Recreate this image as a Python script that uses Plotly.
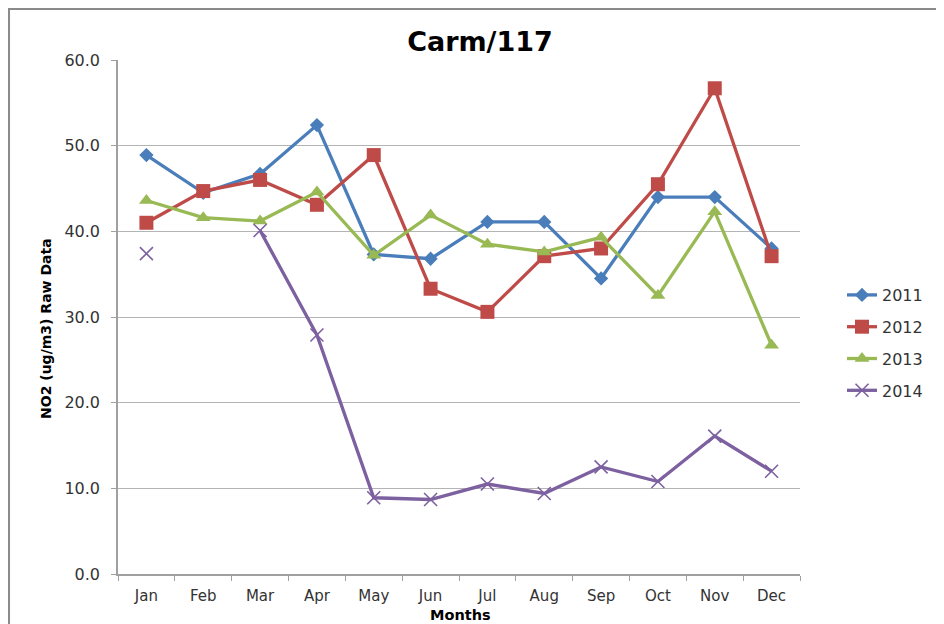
import plotly.graph_objects as go

months = ["Jan", "Feb", "Mar", "Apr", "May", "Jun", "Jul", "Aug", "Sep", "Oct", "Nov", "Dec"]
y2011 = [48.9, 44.5, 46.7, 52.4, 37.3, 36.8, 41.1, 41.1, 34.5, 44.0, 44.0, 38.0]
y2012 = [41.0, 44.7, 46.0, 43.1, 48.9, 33.3, 30.6, 37.1, 38.0, 45.5, 56.7, 37.1]
y2013 = [43.6, 41.6, 41.2, 44.6, 37.2, 41.9, 38.5, 37.6, 39.3, 32.5, 42.3, 26.7]
y2014 = [37.4, None, 40.1, 27.9, 8.9, 8.7, 10.5, 9.4, 12.5, 10.8, 16.1, 12.0]

series = [
    ("2011", y2011, "#4A7EBB", "diamond", 11),
    ("2012", y2012, "#BE4B48", "square", 14),
    ("2013", y2013, "#98B954", "triangle-up", 13),
    ("2014", y2014, "#7D60A0", "x-thin-open", 13),
]

FONT = "'DejaVu Sans', sans-serif"
TXT = "#333333"

fig = go.Figure()
for name, ys, color, sym, size in series:
    marker = dict(symbol=sym, size=size, color=color)
    if sym == "x-thin-open":
        marker["line"] = dict(color=color, width=1.6)
    fig.add_trace(go.Scatter(
        x=months, y=ys, name=name, mode="lines+markers",
        line=dict(color=color, width=3.3),
        marker=marker, connectgaps=False, legendgroup=name,
    ))

fig.update_layout(
    width=944, height=624,
    margin=dict(l=110, r=152, t=52, b=58),
    paper_bgcolor="white", plot_bgcolor="white",
    font=dict(family=FONT, size=16, color=TXT),
    title=dict(text="<b>Carm/117</b>", x=0.5, xanchor="center", y=0.9455, yanchor="middle",
               font=dict(family=FONT, size=27, color="black")),
    showlegend=True,
    legend=dict(x=1.0616, y=0.4494, xanchor="left", yanchor="middle",
                font=dict(family=FONT, size=16, color=TXT),
                tracegroupgap=8, bgcolor="rgba(0,0,0,0)"),
    shapes=[dict(type="rect", xref="paper", yref="paper",
                 x0=-0.1598, y0=1.0992, x1=1.5, y1=-0.5,
                 line=dict(color="#8a8a8a", width=2), layer="below")],
    annotations=[
        dict(text="<b>NO2 (ug/m3) Raw Data</b>", xref="paper", yref="paper",
             x=-0.1056, y=0.4786, xanchor="center", yanchor="middle", textangle=-90,
             showarrow=False, font=dict(family=FONT, size=14, color="black")),
        dict(text="<b>Months</b>", xref="paper", yref="paper",
             x=0.5015, y=-0.0798, xanchor="center", yanchor="middle",
             showarrow=False, font=dict(family=FONT, size=14.5, color="black")),
    ],
)

fig.update_xaxes(
    type="category", range=[-0.5, 11.5],
    showline=True, linecolor="#a0a0a0", linewidth=1.5,
    ticks="outside", tickson="boundaries", ticklen=5, tickcolor="#a0a0a0",
    showgrid=False, tickfont=dict(family=FONT, size=15, color=TXT),
    ticklabelstandoff=7, automargin=False,
)
fig.update_yaxes(
    range=[0, 60], dtick=10, tickformat=".1f",
    showline=True, linecolor="#a0a0a0", linewidth=1.5,
    ticks="outside", ticklen=5, tickcolor="#a0a0a0",
    showgrid=True, gridcolor="#b4b4b4", gridwidth=1.2,
    zeroline=False, ticklabelstandoff=8, automargin=False,
    tickfont=dict(family=FONT, size=16, color=TXT),
)

fig.write_html("out.html")
